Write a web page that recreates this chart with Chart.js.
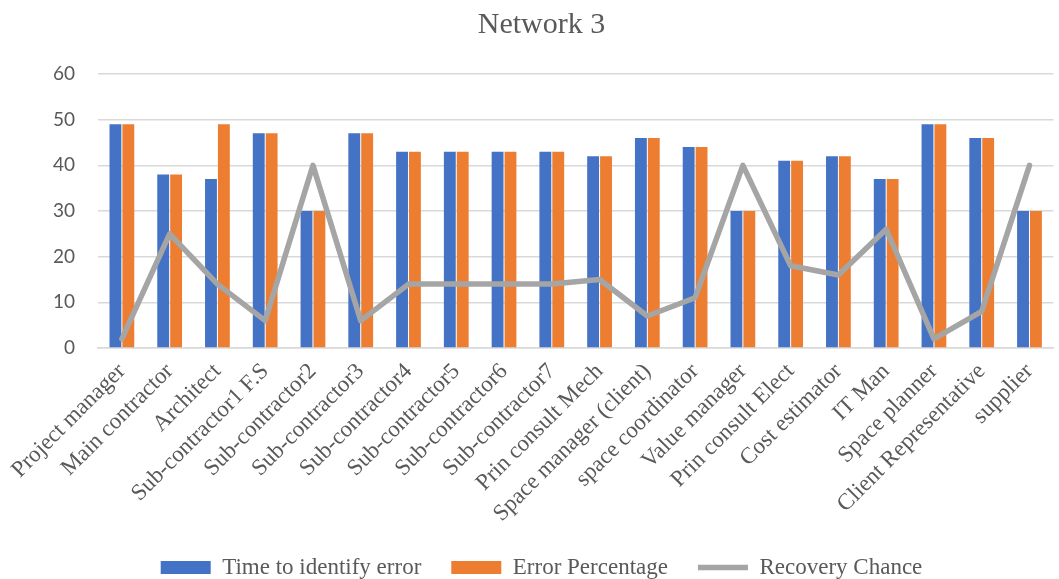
<!DOCTYPE html>
<html>
<head>
<meta charset="utf-8">
<script src="https://cdn.jsdelivr.net/npm/chart.js@4/dist/chart.umd.min.js"></script>
<style>
  html, body { margin: 0; padding: 0; background: #ffffff; }
  #wrap { width: 1059px; height: 579px; }
</style>
</head>
<body>
<div id="wrap"><canvas id="c"></canvas></div>
<script>
// Roles in the project network
const categories = [
  'Project manager', 'Main contractor', 'Architect', 'Sub-contractor1 F.S',
  'Sub-contractor2', 'Sub-contractor3', 'Sub-contractor4', 'Sub-contractor5',
  'Sub-contractor6', 'Sub-contractor7', 'Prin consult Mech', 'Space manager (client)',
  'space coordinator', 'Value manager', 'Prin consult Elect', 'Cost estimator',
  'IT Man', 'Space planner', 'Client Representative', 'supplier'
];

const timeToIdentify = [49, 38, 37, 47, 30, 47, 43, 43, 43, 43, 42, 46, 44, 30, 41, 42, 37, 49, 46, 30];
const errorPercentage = [49, 38, 49, 47, 30, 47, 43, 43, 43, 43, 42, 46, 44, 30, 41, 42, 37, 49, 46, 30];
const recoveryChance = [2, 25, 14, 6, 40, 6, 14, 14, 14, 14, 15, 7, 11, 40, 18, 16, 26, 2, 8, 40];

const yTicks = [0, 10, 20, 30, 40, 50, 60];

const textGrey = '#595959';
const serif = "'Liberation Serif', 'Times New Roman', serif";

new Chart(document.getElementById('c'), {
  data: {
    labels: categories,
    datasets: [
      {
        type: 'bar',
        label: 'Time to identify error',
        data: timeToIdentify,
        backgroundColor: '#4472C4',
        categoryPercentage: 0.54,
        barPercentage: 0.92,
        order: 1,
        pointStyle: 'rect'
      },
      {
        type: 'bar',
        label: 'Error Percentage',
        data: errorPercentage,
        backgroundColor: '#ED7D31',
        categoryPercentage: 0.54,
        barPercentage: 0.92,
        order: 2,
        pointStyle: 'rect'
      },
      {
        type: 'line',
        label: 'Recovery Chance',
        data: recoveryChance,
        borderColor: '#A5A5A5',
        backgroundColor: '#A5A5A5',
        borderWidth: 5.5,
        borderJoinStyle: 'round',
        borderCapStyle: 'round',
        pointRadius: 0,
        pointHoverRadius: 0,
        tension: 0,
        order: 0,
        pointStyle: 'line'
      }
    ]
  },
  options: {
    responsive: true,
    maintainAspectRatio: false,
    animation: false,
    layout: { padding: { left: 24, right: 0, top: 0, bottom: -10 } },
    plugins: {
      title: {
        display: true,
        text: 'Network 3',
        color: textGrey,
        font: { family: serif, size: 30, weight: 'normal' },
        padding: { top: 7, bottom: 31 }
      },
      legend: {
        position: 'bottom',
        labels: {
          usePointStyle: true,
          pointStyleWidth: 50,
          boxHeight: 13,
          padding: 30,
          color: textGrey,
          font: { family: serif, size: 23 },
          sort: (a, b) => a.datasetIndex - b.datasetIndex
        }
      },
      tooltip: { enabled: false }
    },
    scales: {
      x: {
        offset: true,
        grid: { display: false, drawTicks: false },
        border: { display: true, color: '#D9D9D9', width: 1.5 },
        ticks: {
          color: textGrey,
          font: { family: serif, size: 23 },
          minRotation: 45,
          maxRotation: 45,
          autoSkip: false,
          padding: 10
        },
        afterFit: (scale) => { scale.height = 178; }
      },
      y: {
        min: 0,
        max: 60,
        afterBuildTicks: (scale) => { scale.ticks = yTicks.map(v => ({ value: v })); },
        grid: { color: '#D9D9D9', lineWidth: 1.5, drawTicks: false },
        border: { display: false },
        ticks: {
          color: textGrey,
          font: { family: "'Lato', 'Liberation Sans', sans-serif", size: 19 },
          padding: 23
        },
        afterFit: (scale) => { scale.width = 74; }
      }
    }
  }
});
</script>
</body>
</html>
